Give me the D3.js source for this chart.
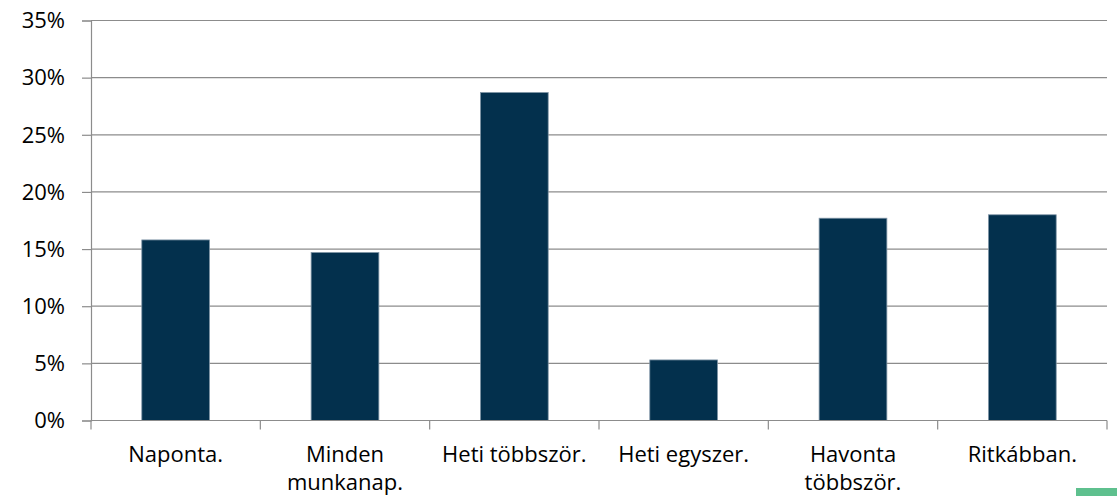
<!DOCTYPE html>
<html lang="hu">
<head>
    <meta charset="UTF-8">
    <title>Gyakoriság</title>
    <style>
        body {
            margin: 0;
            background: #fff;
        }
        .grid line { stroke: #8c8c8c; stroke-width: 1.2; }
        .axis path, .axis line { stroke: #8c8c8c; stroke-width: 1.2; }
        .axis text { fill: #000; font-size: 22px; font-family: "Open Sans", sans-serif; }
    </style>
</head>
<body>
<svg id="chart"></svg>
<script src="https://d3js.org/d3.v7.min.js"></script>
<script>
    // data
    const categories = ["Naponta.", "Minden munkanap.", "Heti többször.", "Heti egyszer.", "Havonta többször.", "Ritkábban."];
    const labelLines = [["Naponta."], ["Minden", "munkanap."], ["Heti többször."], ["Heti egyszer."], ["Havonta", "többször."], ["Ritkábban."]];
    const values = [0.158, 0.147, 0.287, 0.053, 0.177, 0.180];
    const yTicks = [0, 0.05, 0.10, 0.15, 0.20, 0.25, 0.30, 0.35];

    const width = 1117, height = 496;
    const margin = { left: 91, right: 10, top: 20.5, bottom: 75.5 };

    const svg = d3.select("#chart").attr("width", width).attr("height", height);

    const x = d3.scaleBand()
        .domain(categories)
        .range([margin.left, width - margin.right])
        .paddingInner(0.6)
        .paddingOuter(0.3);

    const y = d3.scaleLinear()
        .domain([0, 0.35])
        .range([height - margin.bottom, margin.top]);

    // gridlines
    svg.append("g").attr("class", "grid")
        .selectAll("line")
        .data(yTicks.slice(1))
        .join("line")
        .attr("x1", margin.left)
        .attr("x2", width - margin.right)
        .attr("y1", d => y(d))
        .attr("y2", d => y(d));

    // bars
    svg.append("g")
        .selectAll("rect")
        .data(values)
        .join("rect")
        .attr("x", (d, i) => x(categories[i]))
        .attr("width", x.bandwidth())
        .attr("y", d => y(d))
        .attr("height", d => y(0) - y(d))
        .attr("fill", "#03304d")
        .attr("stroke", "#7f94a6")
        .attr("stroke-width", 0.8);

    // y axis
    const yAxis = svg.append("g").attr("class", "axis")
        .attr("transform", `translate(${margin.left},0)`)
        .call(d3.axisLeft(y).tickValues(yTicks).tickFormat(d3.format(".0%")).tickSizeOuter(0).tickSize(9).tickPadding(17));
    yAxis.selectAll("text").attr("dy", "0.33em");

    // x axis with ticks at category boundaries
    const xAxis = svg.append("g").attr("class", "axis")
        .attr("transform", `translate(0,${y(0)})`);
    xAxis.append("line")
        .attr("x1", margin.left).attr("x2", width - margin.right)
        .attr("y1", 0).attr("y2", 0);
    const step = x.step();
    xAxis.selectAll(".bt")
        .data(d3.range(categories.length + 1))
        .join("line")
        .attr("class", "bt")
        .attr("x1", i => margin.left + i * step)
        .attr("x2", i => margin.left + i * step)
        .attr("y1", 0).attr("y2", 9);
    const lbl = xAxis.selectAll(".lbl")
        .data(categories)
        .join("text")
        .attr("class", "lbl")
        .attr("text-anchor", "middle")
        .attr("x", d => x(d) + x.bandwidth() / 2)
        .attr("y", 41);
    lbl.selectAll("tspan")
        .data((d, i) => labelLines[i])
        .join("tspan")
        .attr("x", function () { return this.parentNode.getAttribute("x"); })
        .attr("dy", (d, j) => j === 0 ? 0 : 28.5)
        .text(d => d);

    // partial green marker at the bottom-right edge
    svg.append("rect")
        .attr("x", 1076).attr("y", 488)
        .attr("width", 41).attr("height", 8)
        .attr("fill", "#5ec08e");
</script>
</body>
</html>
